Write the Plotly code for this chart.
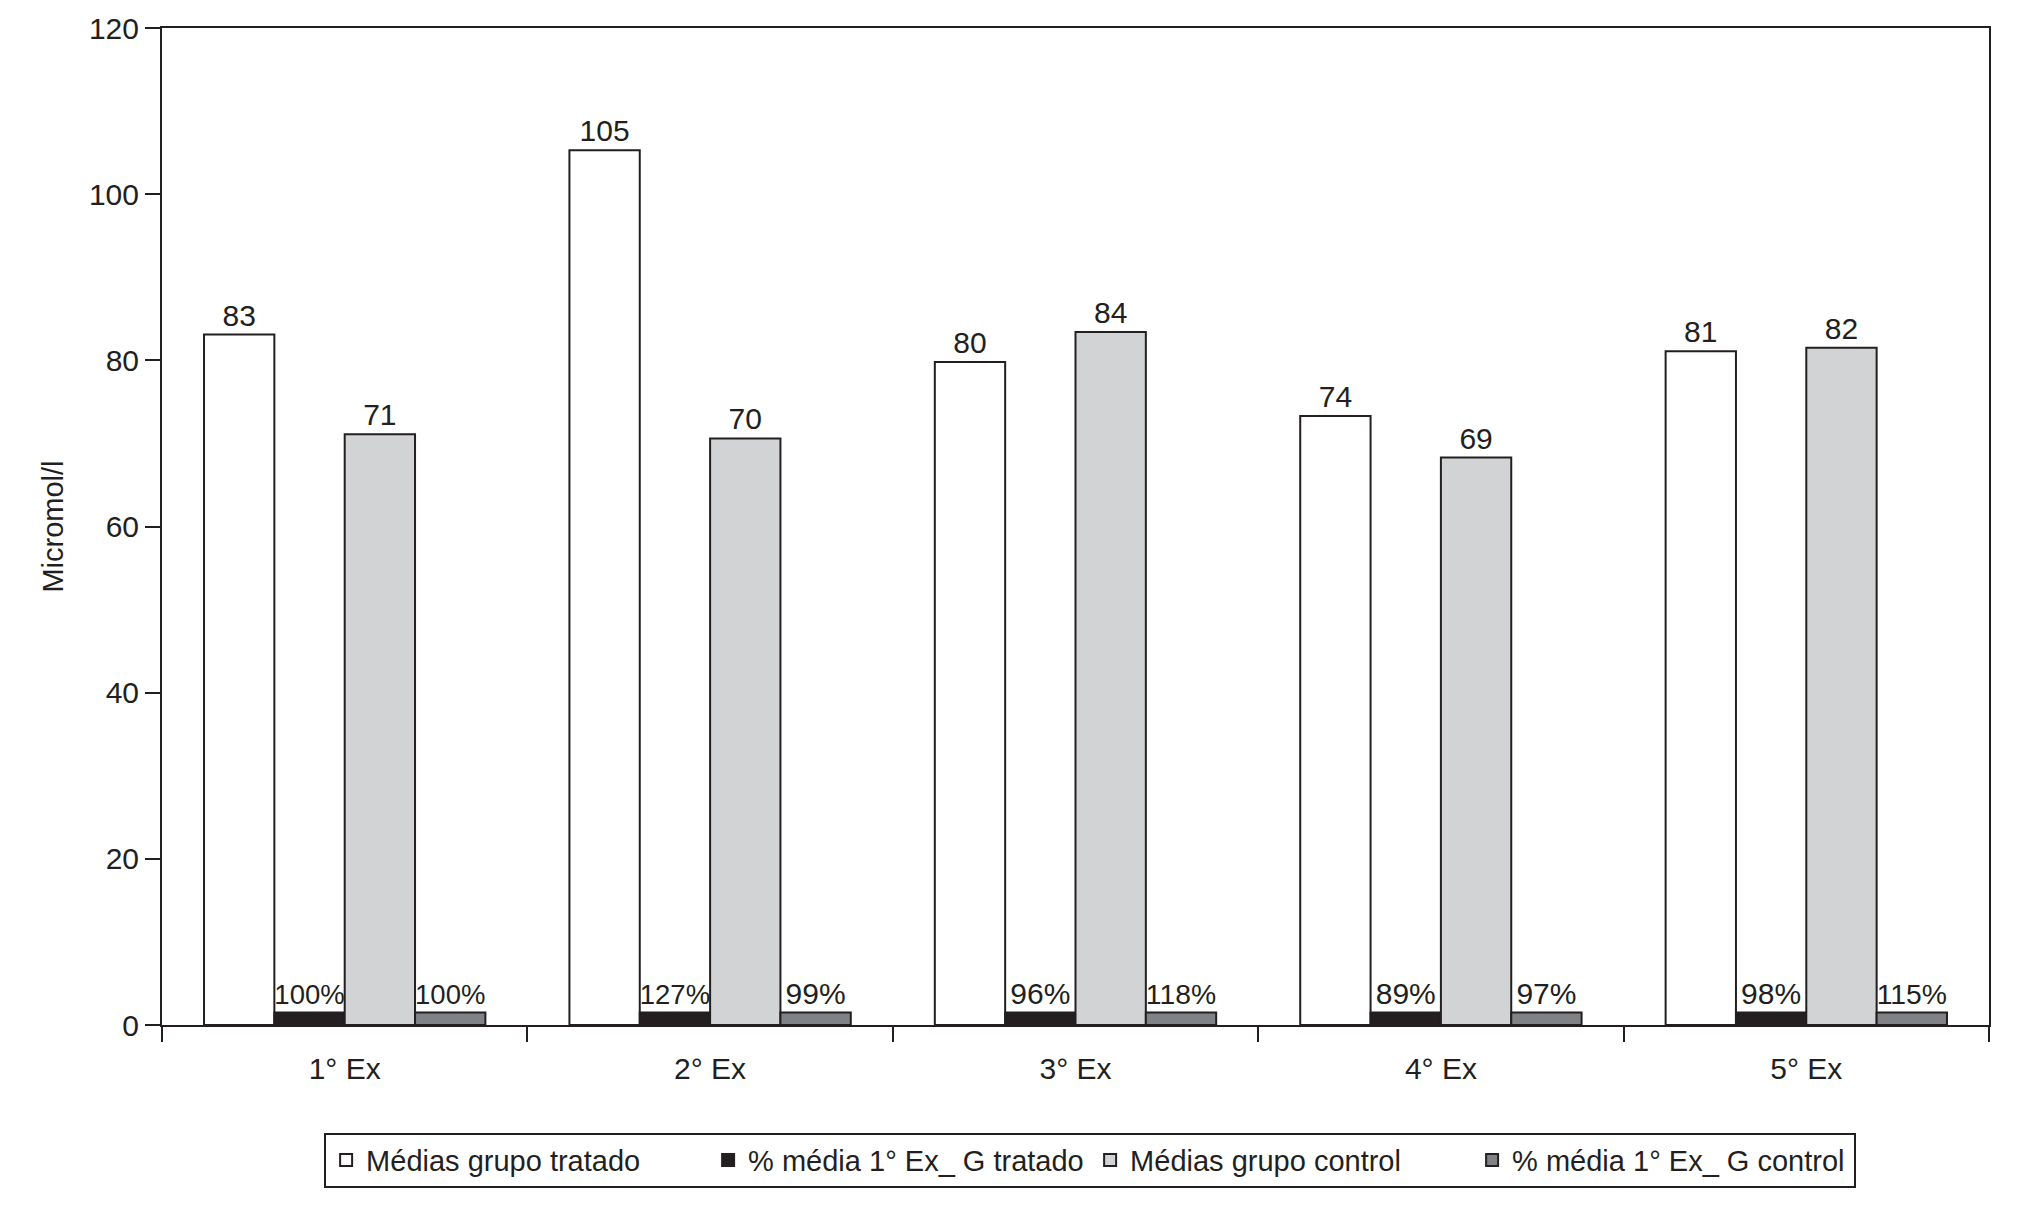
import plotly.graph_objects as go

categories = ["1° Ex", "2° Ex", "3° Ex", "4° Ex", "5° Ex"]

tratado_values = [83.1, 105.3, 79.8, 73.3, 81.1]
tratado_labels = ["83", "105", "80", "74", "81"]

pct_tratado_values = [1.5, 1.5, 1.5, 1.5, 1.5]
pct_tratado_labels = ["100%", "127%", "96%", "89%", "98%"]

control_values = [71.1, 70.6, 83.4, 68.3, 81.5]
control_labels = ["71", "70", "84", "69", "82"]

pct_control_values = [1.5, 1.5, 1.5, 1.5, 1.5]
pct_control_labels = ["100%", "99%", "118%", "97%", "115%"]

series_names = [
    "Médias grupo tratado",
    "% média 1° Ex_ G tratado",
    "Médias grupo control",
    "% média 1° Ex_ G control",
]

FONT = "Liberation Sans, Arial, sans-serif"
INK = "#231f20"

fig = go.Figure()
specs = [
    (tratado_values, tratado_labels, "#ffffff"),
    (pct_tratado_values, pct_tratado_labels, "#231f20"),
    (control_values, control_labels, "#d1d3d4"),
    (pct_control_values, pct_control_labels, "#808285"),
]
for name, (vals, labels, color) in zip(series_names, specs):
    fig.add_trace(go.Bar(
        x=categories, y=vals, name=name,
        text=labels, textposition="outside", cliponaxis=False,
        textfont=dict(family=FONT, size=30, color=INK),
        marker=dict(color=color, line=dict(color=INK, width=2)),
    ))

fig.update_layout(
    width=2020, height=1216,
    paper_bgcolor="white", plot_bgcolor="white",
    barmode="group", bargap=0.23, bargroupgap=0,
    margin=dict(l=154, r=39, t=20, b=199, autoexpand=False),
    font=dict(family=FONT, size=30, color=INK),
    showlegend=True,
    legend=dict(
        orientation="h", x=0.508, xanchor="center", y=-0.108, yanchor="top",
        bordercolor=INK, borderwidth=2, bgcolor="white",
        font=dict(family=FONT, size=29, color=INK),
        entrywidth=337, entrywidthmode="pixels",
        traceorder="normal",
    ),
)
fig.update_xaxes(
    showline=True, linecolor=INK, linewidth=2, mirror=True,
    ticks="outside", tickson="boundaries", ticklen=15, tickwidth=2, tickcolor=INK,
    tickfont=dict(family=FONT, size=30, color=INK), ticklabelstandoff=16,
    showgrid=False, automargin=False,
)
fig.update_yaxes(
    range=[0, 120], tickvals=[0, 20, 40, 60, 80, 100, 120],
    showline=True, linecolor=INK, linewidth=2, mirror=True,
    ticks="outside", ticklen=15, tickwidth=2, tickcolor=INK,
    tickfont=dict(family=FONT, size=30, color=INK),
    showgrid=False, zeroline=False, automargin=False,
    title=dict(text="Micromol/l", font=dict(family=FONT, size=29, color=INK), standoff=17),
)

fig.write_html("out.html")
